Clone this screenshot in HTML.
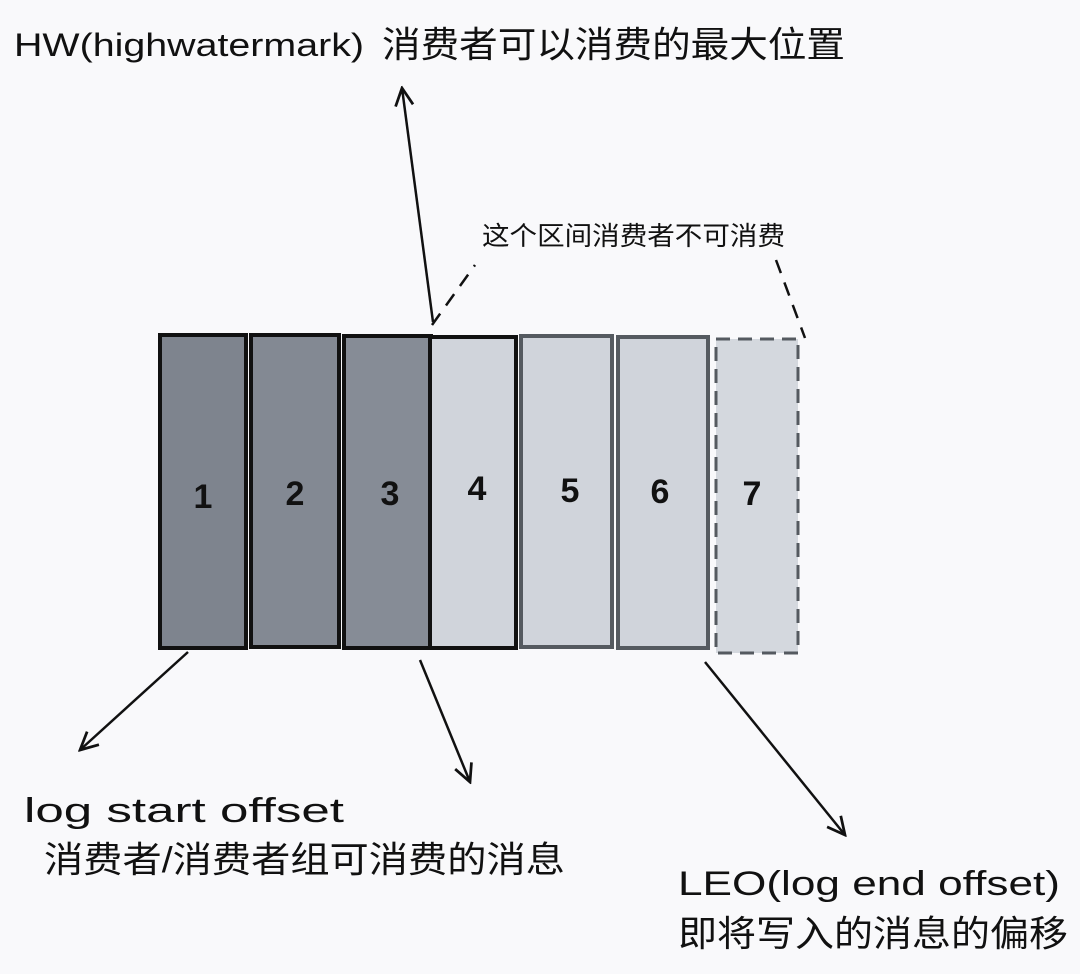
<!DOCTYPE html>
<html><head><meta charset="utf-8"><style>
html,body{margin:0;padding:0;background:#f9f9fb;}
svg{display:block}
text{font-family:"Liberation Sans","Noto Sans CJK SC",sans-serif;fill:#111;}
</style></head><body>
<svg width="1080" height="974" viewBox="0 0 1080 974" xmlns="http://www.w3.org/2000/svg">
<defs>
<marker id="a" viewBox="0 0 20 20" refX="18" refY="10" markerWidth="22" markerHeight="22" markerUnits="userSpaceOnUse" orient="auto">
<path d="M2 2 L18 10 L2 18" fill="none" stroke="#111" stroke-width="2.5"/>
</marker>
</defs>
<g stroke="#111" stroke-width="4">
<rect x="160" y="335" width="86" height="313" fill="#7e848e"/>
<rect x="251" y="335" width="88" height="312" fill="#838993"/>
<rect x="344" y="336" width="87" height="312" fill="#868c96"/>
<rect x="430" y="337" width="86" height="311" fill="#d0d4db"/>
</g>
<g stroke="#555a60" stroke-width="4">
<rect x="521" y="336" width="91" height="311" fill="#d0d4db"/>
<rect x="618" y="337" width="90" height="311" fill="#d0d4db"/>
</g>
<rect x="716" y="339" width="82" height="314" fill="#d4d8de" stroke="#555a60" stroke-width="3" stroke-dasharray="14 8"/>
<g font-size="34" font-weight="bold">
<text x="203" y="508" text-anchor="middle">1</text>
<text x="295" y="505" text-anchor="middle">2</text>
<text x="390" y="505" text-anchor="middle">3</text>
<text x="477" y="500" text-anchor="middle">4</text>
<text x="570" y="502" text-anchor="middle">5</text>
<text x="660" y="503" text-anchor="middle">6</text>
<text x="752" y="505" text-anchor="middle">7</text>
</g>
<g stroke="#111" stroke-width="2.5" fill="none">
<line x1="433" y1="322" x2="402" y2="88" marker-end="url(#a)"/>
<line x1="188" y1="652" x2="80" y2="750" marker-end="url(#a)"/>
<line x1="420" y1="660" x2="470" y2="782" marker-end="url(#a)"/>
<line x1="705" y1="662" x2="845" y2="835" marker-end="url(#a)"/>
<path d="M432 325 L475 265" stroke-dasharray="14 10"/>
<path d="M776 260 L805 338" stroke-dasharray="14 10"/>
</g>
<text x="14" y="56" font-size="32" textLength="350" lengthAdjust="spacingAndGlyphs">HW(highwatermark)</text>
<text x="382" y="57" font-size="36" textLength="463" lengthAdjust="spacingAndGlyphs">消费者可以消费的最大位置</text>
<text x="482" y="245" font-size="26" textLength="303" lengthAdjust="spacingAndGlyphs">这个区间消费者不可消费</text>
<text x="24" y="822" font-size="34" textLength="320" lengthAdjust="spacingAndGlyphs">log start offset</text>
<text x="44" y="872" font-size="36" textLength="521" lengthAdjust="spacingAndGlyphs">消费者/消费者组可消费的消息</text>
<text x="678" y="895" font-size="34" textLength="382" lengthAdjust="spacingAndGlyphs">LEO(log end offset)</text>
<text x="678" y="946" font-size="36" textLength="390" lengthAdjust="spacingAndGlyphs">即将写入的消息的偏移</text>
</svg>
</body></html>
